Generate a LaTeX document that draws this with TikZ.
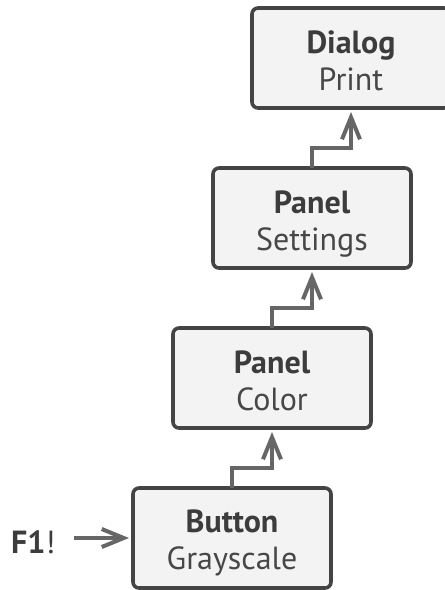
\documentclass[tikz,border=0pt]{standalone}
\usepackage{fontspec}
\setmainfont{PT Sans}
\usetikzlibrary{arrows.meta}
\definecolor{boxborder}{HTML}{444444}
\definecolor{boxfill}{HTML}{F3F3F3}
\definecolor{arrowgray}{HTML}{666666}
\definecolor{textdark}{HTML}{3C3C3C}
\definecolor{textreg}{HTML}{474747}
\tikzset{
  box/.style={draw=boxborder, fill=boxfill, line width=3.6pt, rounded corners=6pt,
    minimum width=198pt, minimum height=100pt, inner sep=0pt, outer sep=0pt},
  titletext/.style={anchor=base, inner sep=0pt, text=textdark,
    font=\fontsize{32}{38}\selectfont\bfseries},
  subtext/.style={anchor=base, inner sep=0pt, text=textreg,
    font=\fontsize{32}{38}\selectfont},
  arr/.style={draw=arrowgray, line width=4pt,
    -{Straight Barb[length=22pt,width=18pt]}},
}
\begin{document}
\begin{tikzpicture}[x=1pt,y=-1pt]
\useasboundingbox (0,0) rectangle (445,590);
\clip (0,0) rectangle (445,590);

\node[box] (dialog)   at (351,58)  {};
\node[box] (settings) at (312,218) {};
\node[box] (color)    at (272,378) {};
\node[box] (button)   at (232,538) {};

\node[titletext] (dialogT)   at ([yshift=-45pt]dialog.north)   {Dialog};
\node[subtext]   (dialogS)   at ([yshift=-82pt]dialog.north)   {Print};
\node[titletext] (settingsT) at ([yshift=-45pt]settings.north) {Panel};
\node[subtext]   (settingsS) at ([yshift=-82pt]settings.north) {Settings};
\node[titletext] (colorT)    at ([yshift=-45pt]color.north)    {Panel};
\node[subtext]   (colorS)    at ([yshift=-82pt]color.north)    {Color};
\node[titletext] (buttonT)   at ([yshift=-44pt]button.north)   {Button};
\node[subtext]   (buttonS)   at ([yshift=-81pt]button.north)   {Grayscale};

\node[anchor=base west, inner sep=0pt, text=textdark,
  font=\fontsize{32}{38}\selectfont] (f1) at (11,553) {\textbf{F1}!};

\draw[arr, shorten >=4pt] (button.north) -- ++(0,-20) -| (color.south);
\draw[arr, shorten >=4pt] (color.north) -- ++(0,-20) -| (settings.south);
\draw[arr, shorten >=4pt] (settings.north) -- ++(0,-20) -| (dialog.south);
\draw[arr, shorten <=18pt, shorten >=4pt] (f1.east |- button.west) -- (button.west);
\end{tikzpicture}
\end{document}
